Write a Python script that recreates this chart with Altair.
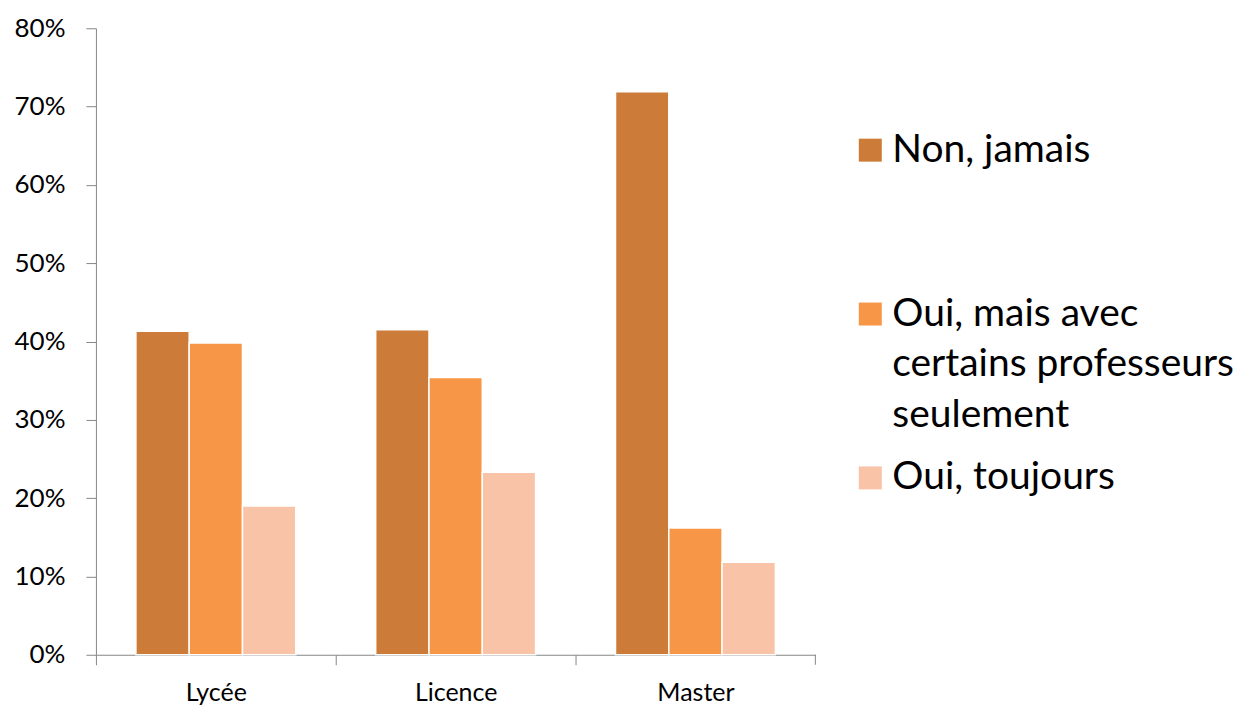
import altair as alt
import pandas as pd

categories = ["Lycée", "Licence", "Master"]
series = ["Non, jamais", "Oui, mais avec certains professeurs seulement", "Oui, toujours"]
legend_lines = [["Non, jamais"], ["Oui, mais avec", "certains professeurs", "seulement"], ["Oui, toujours"]]
non_jamais = [0.413, 0.415, 0.719]
oui_certains = [0.398, 0.354, 0.162]
oui_toujours = [0.190, 0.233, 0.118]
colors = ["#CC7B38", "#F79646", "#F9C3A8"]
y_ticks = [0, 0.1, 0.2, 0.3, 0.4, 0.5, 0.6, 0.7, 0.8]

rows = []
for i, c in enumerate(categories):
    for s, vals in zip(series, [non_jamais, oui_certains, oui_toujours]):
        rows.append({"niveau": c, "reponse": s, "valeur": vals[i]})
df = pd.DataFrame(rows)
leg_df = pd.DataFrame({"reponse": series, "lines": legend_lines})

W, H = 720, 627
FONT = "Lato"
color_scale = alt.Scale(domain=series, range=colors)

bars = alt.Chart(df).mark_bar(stroke="white", strokeWidth=1.5).encode(
    x=alt.X("niveau:N", sort=categories, title=None,
            scale=alt.Scale(paddingInner=1/3, paddingOuter=1/6),
            axis=alt.Axis(labelAngle=0, bandPosition=0, tickOffset=-40, labelOffset=40,
                          tickSize=10, tickColor="#868686", domainColor="#868686",
                          labelFontSize=25, labelFont=FONT, labelColor="#000000",
                          labelPadding=16)),
    xOffset=alt.XOffset("reponse:N", sort=series, scale=alt.Scale(paddingInner=0)),
    y=alt.Y("valeur:Q", title=None,
            scale=alt.Scale(domain=[0, 0.8], nice=False),
            axis=alt.Axis(values=y_ticks, format=".0%", grid=False,
                          tickSize=10, tickColor="#868686", domainColor="#868686",
                          labelFontSize=26, labelFont=FONT, labelColor="#000000",
                          labelPadding=21)),
    color=alt.Color("reponse:N", sort=series, scale=color_scale, legend=None),
)

end_tick = alt.Chart(pd.DataFrame({"a": [0]})).mark_rule(color="#868686").encode(
    x=alt.value(W), y=alt.value(H), y2=alt.value(H + 10)
)

plot = alt.layer(bars, end_tick).properties(width=W, height=H)

leg_y = alt.Y("reponse:N", sort=series, axis=None,
              scale=alt.Scale(type="point", padding=0.9116, align=0.408))
leg_sq = alt.Chart(leg_df).mark_square(size=529, opacity=1).encode(
    x=alt.value(11), y=leg_y,
    color=alt.Color("reponse:N", sort=series, scale=color_scale, legend=None),
)
leg_tx = alt.Chart(leg_df).mark_text(
    align="left", baseline="line-top", fontSize=39, lineHeight=51, dy=-25.5,
    font=FONT, color="#000000"
).encode(x=alt.value(33), y=leg_y, text="lines")

legend = alt.layer(leg_sq, leg_tx).properties(width=340, height=H)

chart = alt.hconcat(plot, legend, spacing=42).properties(
    padding={"left": 6, "top": 7, "right": 5, "bottom": 5},
).configure_view(stroke=None)

chart.save("out.html", embed_options={"renderer": "svg", "actions": False})
